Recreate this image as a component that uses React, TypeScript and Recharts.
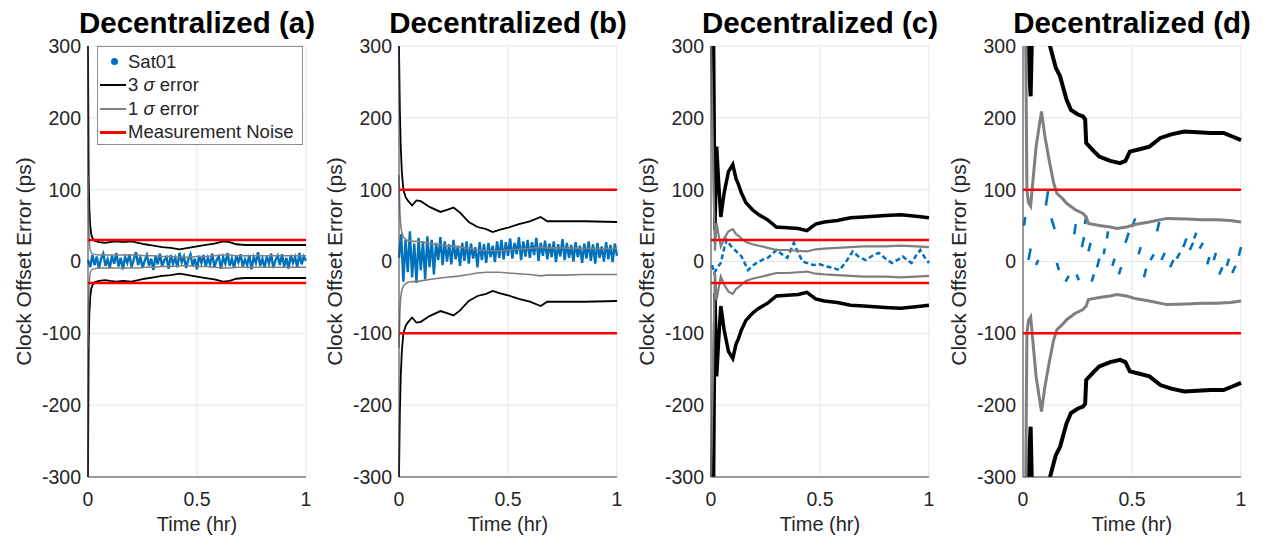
import React from 'react';
import { ComposedChart, Line, XAxis, YAxis, CartesianGrid, ReferenceLine } from 'recharts';

const FONT = 'Arial, "Liberation Sans", Helvetica, sans-serif';
const BLUE = '#0072BD';
const BLACK = '#000000';
const GRAY = '#7f7f7f';
const RED = '#ff0000';
const TEXT = '#262626';

const titles = ['Decentralized (a)', 'Decentralized (b)', 'Decentralized (c)', 'Decentralized (d)'];
const noiseLevels = [30, 100, 30, 100];
const yTicks = [-300, -200, -100, 0, 100, 200, 300];
const xTicks = [0, 0.5, 1];

// time grid of the dense Sat01 bands in (a) and (b)
const tBand = [
  0, 0.01, 0.02, 0.03, 0.04, 0.05, 0.06, 0.07, 0.08, 0.09,
  0.1, 0.11, 0.12, 0.13, 0.14, 0.15, 0.16, 0.17, 0.18, 0.19,
  0.2, 0.21, 0.22, 0.23, 0.24, 0.25, 0.26, 0.27, 0.28, 0.29,
  0.3, 0.31, 0.32, 0.33, 0.34, 0.35, 0.36, 0.37, 0.38, 0.39,
  0.4, 0.41, 0.42, 0.43, 0.44, 0.45, 0.46, 0.47, 0.48, 0.49,
  0.5, 0.51, 0.52, 0.53, 0.54, 0.55, 0.56, 0.57, 0.58, 0.59,
  0.6, 0.61, 0.62, 0.63, 0.64, 0.65, 0.66, 0.67, 0.68, 0.69,
  0.7, 0.71, 0.72, 0.73, 0.74, 0.75, 0.76, 0.77, 0.78, 0.79,
  0.8, 0.81, 0.82, 0.83, 0.84, 0.85, 0.86, 0.87, 0.88, 0.89,
  0.9, 0.91, 0.92, 0.93, 0.94, 0.95, 0.96, 0.97, 0.98, 0.99,
  1,
];

// (a)
const satA = [
  2, -8, 9, -5, 7, -10, 4, 11, -6, 3,
  -9, 8, -3, 12, -7, 5, -11, 6, -2, 10,
  -8, 3, 13, -5, 7, -9, 1, 9, -6, 4,
  -12, 8, -4, 11, -7, 2, 6, -10, 9, -3,
  5, -8, 12, -1, 7, -9, 3, 10, -6, 4,
  -11, 8, -2, 9, -7, 5, -4, 11, -8, 2,
  7, -10, 6, -3, 12, -6, 4, -9, 8, -1,
  10, -7, 3, -5, 9, -11, 6, -2, 13, -6,
  4, -8, 7, -3, 11, -9, 2, 8, -5, 10,
  -7, 5, -10, 9, -2, 6, -8, 12, -4, 7,
  1,
];
const tA = [0, 0.003, 0.006, 0.01, 0.015, 0.02, 0.03, 0.05, 0.08, 0.1, 0.13, 0.16, 0.2, 0.23, 0.26, 0.3, 0.34, 0.38, 0.42, 0.46, 0.5, 0.54, 0.58, 0.62, 0.65, 0.68, 0.72, 0.8, 0.9, 1];
const sig3A = [300, 120, 75, 50, 38, 33, 29, 27, 26, 27, 28, 27, 28, 26, 24, 22, 20, 19, 17, 19, 21, 23, 25, 28, 27, 24, 23, 23, 23, 23];
const sig1A = [120, 60, 30, 16, 12, 11, 10, 9, 9, 9, 9, 9, 9, 9, 8, 8, 7, 7, 6, 6, 7, 7, 8, 9, 9, 8, 8, 8, 8, 8];

// (b)
const satB = [
  5, 38, -28, 30, -15, 42, -22, 25, -30, 33,
  -12, 28, -25, 35, -8, 30, -18, 26, 2, 34,
  -5, 28, 0, 24, -4, 30, 3, 22, -6, 26,
  1, 28, -3, 25, 4, 20, -8, 27, 2, 24,
  -2, 26, 6, 22, -1, 28, 5, 30, 3, 27,
  8, 32, 4, 26, 10, 34, 2, 28, 7, 30,
  5, 27, 9, 33, 1, 26, 8, 29, 3, 25,
  6, 28, -1, 24, 7, 31, 2, 26, 5, 23,
  0, 27, 6, 22, -2, 25, 4, 28, 1, 24,
  -3, 26, 5, 21, 0, 27, 3, 23, -1, 25,
  8,
];
const tB = [0, 0.004, 0.008, 0.013, 0.02, 0.03, 0.04, 0.06, 0.08, 0.1, 0.14, 0.19, 0.22, 0.25, 0.28, 0.32, 0.36, 0.4, 0.43, 0.46, 0.5, 0.55, 0.6, 0.65, 0.68, 0.75, 0.85, 1];
const sig3B = [300, 210, 160, 125, 100, 90, 85, 78, 85, 84, 76, 69, 72, 75, 68, 55, 48, 45, 41, 44, 47, 52, 56, 62, 56, 56, 56, 55];
const sig1B = [120, 70, 50, 40, 34, 31, 29, 28, 28, 27, 25, 23, 22, 21, 20, 18, 16, 15, 15, 15, 16, 17, 18, 20, 19, 19, 18, 18];

// (c)
const tSatC = [0.005, 0.015, 0.03, 0.045, 0.06, 0.072, 0.09, 0.11, 0.14, 0.17, 0.19, 0.21, 0.24, 0.26, 0.28, 0.3, 0.33, 0.35, 0.38, 0.4, 0.42, 0.45, 0.47, 0.5, 0.53, 0.56, 0.59, 0.62, 0.65, 0.68, 0.71, 0.74, 0.77, 0.8, 0.83, 0.86, 0.88, 0.9, 0.92, 0.94, 0.96, 0.98, 1];
const satC = [-5, -16, -8, -2, 18, 30, 22, 16, 7, -12, -6, -2, 3, 5, 10, 16, 9, 5, 26, 12, 0, -3, -5, -4, -7, -9, -12, 0, 14, 6, 2, 8, 12, 4, -2, 3, 7, 2, -2, 8, 16, 6, -2];
const tC = [0, 0.012, 0.018, 0.026, 0.035, 0.045, 0.06, 0.08, 0.1, 0.115, 0.125, 0.14, 0.16, 0.19, 0.22, 0.26, 0.3, 0.35, 0.4, 0.44, 0.48, 0.52, 0.58, 0.64, 0.7, 0.8, 0.87, 0.94, 1];
const sig3C = [600, 300, 44, 160, 110, 62, 95, 125, 135, 115, 108, 95, 82, 72, 65, 58, 48, 47, 46, 43, 52, 55, 57, 61, 62, 64, 65, 63, 61];
const sig1C = [300, 100, 15, 53, 37, 21, 32, 42, 45, 38, 36, 32, 27, 24, 22, 19, 16, 16, 15, 14, 17, 18, 19, 20, 21, 21, 22, 21, 20];

// (d) Sat01 shows as short strokes: [t start, value start, t end, value end]
const satDashesD = [
  [0.005, 50, 0.01, 62], [0.025, 2, 0.035, 18], [0.06, -5, 0.07, 2], [0.105, 78, 0.115, 98],
  [0.13, 60, 0.145, 45], [0.155, -2, 0.165, -12], [0.195, -28, 0.21, -20], [0.235, 38, 0.242, 52],
  [0.246, -18, 0.256, -26], [0.27, 20, 0.28, 34], [0.284, 52, 0.29, 64], [0.3, 14, 0.31, 26],
  [0.315, -28, 0.325, -18], [0.34, -8, 0.35, 4], [0.37, 10, 0.375, 18], [0.385, 32, 0.39, 42],
  [0.41, -6, 0.42, 4], [0.44, -18, 0.45, -8], [0.47, 26, 0.485, 40], [0.5, 48, 0.515, 60],
  [0.53, 10, 0.54, 20], [0.555, -22, 0.565, -10], [0.585, 2, 0.6, 10], [0.615, 42, 0.625, 55],
  [0.635, 2, 0.65, 12], [0.675, -8, 0.69, 2], [0.705, 4, 0.72, 12], [0.735, 20, 0.75, 32],
  [0.765, 16, 0.78, 26], [0.785, 32, 0.795, 40], [0.81, 18, 0.825, 26], [0.845, -4, 0.855, 6],
  [0.875, 2, 0.885, 12], [0.9, -18, 0.915, -8], [0.935, -6, 0.945, 4], [0.96, -16, 0.975, -6],
  [0.99, 8, 1, 20],
];
const tD3 = [0, 0.01, 0.02, 0.03, 0.035, 0.04, 0.05, 0.07, 0.09, 0.11, 0.124, 0.15, 0.17, 0.2, 0.22, 0.25, 0.275, 0.285, 0.29, 0.32, 0.35, 0.4, 0.445, 0.47, 0.49, 0.53, 0.58, 0.63, 0.68, 0.74, 0.8, 0.86, 0.92, 0.96, 1];
const sig3D = [900, 700, 450, 260, 230, 300, 400, 560, 620, 420, 300, 270, 258, 225, 211, 205, 202, 198, 165, 155, 146, 140, 137, 140, 153, 156, 160, 172, 177, 181, 180, 179, 179, 174, 169];
const tD1 = [0, 0.01, 0.018, 0.025, 0.035, 0.045, 0.06, 0.075, 0.085, 0.1, 0.12, 0.14, 0.155, 0.18, 0.2, 0.24, 0.275, 0.29, 0.3, 0.35, 0.4, 0.43, 0.475, 0.52, 0.58, 0.66, 0.75, 0.82, 0.89, 0.95, 1];
const sig1D = [900, 400, 100, 82, 77, 110, 160, 190, 209, 175, 141, 110, 95, 88, 81, 72, 67, 62, 53, 50, 48, 46, 48, 52, 55, 60, 59, 58, 58, 57, 55];

type Pt = { t: number; v: number | null };
const zip = (ts: number[], vs: number[]): Pt[] => ts.slice(0, vs.length).map((t, i) => ({ t, v: vs[i] }));
const neg = (pts: Pt[]): Pt[] => pts.map(p => ({ t: p.t, v: p.v === null ? null : -p.v }));
const strokes = (segs: number[][]): Pt[] =>
  segs.flatMap(([t1, v1, t2, v2]) => [{ t: t1, v: v1 }, { t: t2, v: v2 }, { t: t2, v: null }]);

const panels = [
  { sat: zip(tBand, satA), satW: 2.4, satDash: undefined, s3: zip(tA, sig3A), s1: zip(tA, sig1A), w3: 1.8, w1: 1.4 },
  { sat: zip(tBand, satB), satW: 2.4, satDash: undefined, s3: zip(tB, sig3B), s1: zip(tB, sig1B), w3: 1.8, w1: 1.6 },
  { sat: zip(tSatC, satC), satW: 2.5, satDash: '5 3', s3: zip(tC, sig3C), s1: zip(tC, sig1C), w3: 3.5, w1: 2.2 },
  { sat: strokes(satDashesD), satW: 2.6, satDash: undefined, s3: zip(tD3, sig3D), s1: zip(tD1, sig1D), w3: 4, w1: 3 },
];

const CHART_W = 312;
const CHART_H = 536;
const Y_AXIS_W = 88;
const chartLefts = [0, 311, 623, 935];

const legendItems = [
  { kind: 'dot', color: BLUE, pre: 'Sat01', greek: '', post: '' },
  { kind: 'line', color: BLACK, pre: '3 ', greek: 'σ', post: ' error' },
  { kind: 'line', color: GRAY, pre: '1 ', greek: 'σ', post: ' error' },
  { kind: 'line', color: RED, pre: 'Measurement Noise', greek: '', post: '' },
];

function LegendBox() {
  return (
    <div
      style={{
        position: 'absolute', left: 97, top: 46, width: 206, height: 99, boxSizing: 'border-box',
        border: '1px solid #8c8c8c', background: '#fff', paddingTop: 3, fontSize: 18.5, color: TEXT,
      }}
    >
      {legendItems.map(it => (
        <div key={it.pre + it.color} style={{ height: 23.5, display: 'flex', alignItems: 'center' }}>
          <div style={{ position: 'relative', width: 30, height: 23.5 }}>
            {it.kind === 'dot' ? (
              <div style={{ position: 'absolute', left: 13, top: 8, width: 7, height: 7, borderRadius: 4, background: it.color }} />
            ) : (
              <div style={{ position: 'absolute', left: 2, top: 10.5, width: 26, height: it.color === RED ? 3 : 2, background: it.color }} />
            )}
          </div>
          <span style={{ whiteSpace: 'nowrap' }}>
            {it.pre}
            {it.greek && <i>{it.greek}</i>}
            {it.post}
          </span>
        </div>
      ))}
    </div>
  );
}

function Panel({ idx }: { idx: number }) {
  const p = panels[idx];
  const noise = noiseLevels[idx];
  const common = { dataKey: 'v', dot: false, activeDot: false, isAnimationActive: false, type: 'linear' as const };
  return (
    <div style={{ position: 'absolute', left: chartLefts[idx], top: 0, width: CHART_W, height: CHART_H }}>
      <div
        style={{
          position: 'absolute', left: Y_AXIS_W, top: 7, width: 218, display: 'flex', justifyContent: 'center',
          whiteSpace: 'nowrap', fontSize: 29.5, fontWeight: 700, lineHeight: '32px', color: '#000',
        }}
      >
        {titles[idx]}
      </div>
      <ComposedChart width={CHART_W} height={CHART_H} margin={{ top: 46, right: 6, bottom: 0, left: 0 }}>
        <CartesianGrid stroke="#e6e6e6" />
        <XAxis
          type="number"
          dataKey="t"
          domain={[0, 1]}
          ticks={xTicks}
          height={59}
          tickLine={false}
          tickSize={4}
          tickMargin={11}
          stroke="#404040"
          tick={{ fontSize: 19.5, fill: TEXT }}
          label={{ value: 'Time (hr)', position: 'insideBottom', offset: 5, fontSize: 20, fill: TEXT }}
        />
        <YAxis
          type="number"
          domain={[-300, 300]}
          ticks={yTicks}
          allowDataOverflow
          width={Y_AXIS_W}
          tickLine={false}
          tickSize={4}
          tickMargin={3}
          stroke="#404040"
          tick={{ fontSize: 19.5, fill: TEXT }}
          label={{
            value: 'Clock Offset Error (ps)', angle: -90, position: 'insideLeft', offset: 24,
            fontSize: 21, fill: TEXT, style: { textAnchor: 'middle' },
          }}
        />
        <Line {...common} data={p.sat} stroke={BLUE} strokeWidth={p.satW} strokeDasharray={p.satDash} connectNulls={false} />
        <Line {...common} data={p.s3} stroke={BLACK} strokeWidth={p.w3} />
        <Line {...common} data={neg(p.s3)} stroke={BLACK} strokeWidth={p.w3} />
        <Line {...common} data={p.s1} stroke={GRAY} strokeWidth={p.w1} />
        <Line {...common} data={neg(p.s1)} stroke={GRAY} strokeWidth={p.w1} />
        <ReferenceLine y={noise} stroke={RED} strokeWidth={2.5} />
        <ReferenceLine y={-noise} stroke={RED} strokeWidth={2.5} />
      </ComposedChart>
      {idx === 0 && <LegendBox />}
    </div>
  );
}

export default function App() {
  return (
    <div style={{ position: 'fixed', left: 0, top: 0, width: 1265, height: 536, background: '#fff', fontFamily: FONT }}>
      {titles.map((_, i) => (
        <Panel key={i} idx={i} />
      ))}
    </div>
  );
}
